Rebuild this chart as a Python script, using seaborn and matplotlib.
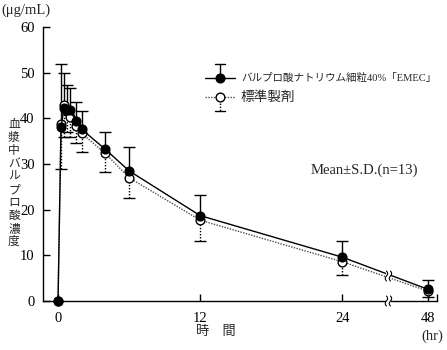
import numpy as np
import matplotlib
matplotlib.use("Agg")
import matplotlib.pyplot as plt
from matplotlib.lines import Line2D
from matplotlib.patches import Rectangle
import seaborn as sns

# Plasma concentration after a single dose (mean ± S.D., n=13)
time_h = [0, 0.25, 0.5, 0.75, 1, 1.5, 2, 4, 6, 12, 24, 48]
test_mean = [0, 38.0, 42.2, 41.8, 41.8, 39.5, 37.6, 33.2, 28.5, 18.7, 9.6, 2.6]
test_sd = [0, 14.0, 7.7, 5.6, 4.8, 4.1, 4.1, 3.9, 5.2, 4.5, 3.6, 2.1]
ref_mean = [0, 38.8, 42.9, 41.5, 40.4, 38.3, 36.7, 32.3, 27.0, 17.7, 8.6, 2.2]
ref_sd = [0, 9.8, 7.0, 4.4, 4.4, 3.8, 4.0, 4.1, 4.5, 4.6, 2.9, 1.3]

x_ticks = [0, 12, 24, 48]
y_ticks = [0, 10, 20, 30, 40, 50, 60]
test_label = "バルプロ酸ナトリウム細粒40%「EMEC」"
ref_label = "標準製剤"
y_title = "血漿中バルプロ酸濃度"
x_title = "時　間"
unit_y = "(μg/mL)"
unit_x = "(hr)"
note = "Mean±S.D.(n=13)"

sns.set_style("ticks")
SERIF = ["Liberation Serif", "Noto Sans CJK JP"]
CJK = ["Noto Sans CJK JP", "DejaVu Sans"]
plt.rcParams["font.family"] = SERIF

W, H = 447, 350
fig = plt.figure(figsize=(W / 100, H / 100), dpi=100)
fig.patch.set_facecolor("white")
ax = fig.add_axes([43 / W, 49 / H, 394 / W, 274 / H])
ax.set_facecolor("white")

# broken time axis: everything after 24 h is compressed
K = 0.3


def fwd(t):
    t = np.asarray(t, float)
    return np.where(t <= 24, t, 24 + (t - 24) * K)


def inv(u):
    u = np.asarray(u, float)
    return np.where(u <= 24, u, 24 + (u - 24) / K)


t_arr = np.array(time_h, float)
tm, ts = np.array(test_mean), np.array(test_sd)
rm, rs = np.array(ref_mean), np.array(ref_sd)
has_sd = ts > 0
MS = 6.3

# reference formulation: dotted line, open circles, downward S.D.
sns.lineplot(x=time_h, y=ref_mean, ax=ax, color="0.3", lw=1.0,
             linestyle=(0, (1, 1)), marker="o", markersize=MS,
             markerfacecolor="white", markeredgecolor="black",
             markeredgewidth=1.0, clip_on=False, zorder=3)
ax.vlines(t_arr[has_sd], rm[has_sd] - rs[has_sd], rm[has_sd], colors="black",
          linestyles=(0, (1, 1.2)), lw=1.0, zorder=2)
ax.plot(t_arr[has_sd], rm[has_sd] - rs[has_sd], ls="none", marker="_",
        ms=9, mew=1.0, color="black", zorder=2)

# test formulation: solid line, filled circles, upward S.D.
sns.lineplot(x=time_h, y=test_mean, ax=ax, color="black", lw=1.0,
             marker="o", markersize=MS, markerfacecolor="black",
             markeredgecolor="black", markeredgewidth=1.0,
             clip_on=False, zorder=4)
ax.vlines(t_arr[has_sd], tm[has_sd], tm[has_sd] + ts[has_sd], colors="black",
          lw=1.0, zorder=2)
ax.plot(t_arr[has_sd], tm[has_sd] + ts[has_sd], ls="none", marker="_",
        ms=9, mew=1.0, color="black", zorder=2)

if ax.get_legend() is not None:
    ax.get_legend().remove()

ax.set_xscale("function", functions=(fwd, inv))
ax.set_xlim(-1.27, 24 + 8.0 / K)
ax.set_ylim(0, 60)
ax.set_xticks(x_ticks)
ax.set_yticks(y_ticks)
ax.set_xticks([24 + 8.0 / K], minor=True)
ax.xaxis.set_minor_formatter(plt.NullFormatter())
ax.tick_params(axis="both", which="both", direction="in", length=5,
               width=1.0, color="black", labelsize=10.5, labelcolor="black")
ax.tick_params(axis="x", pad=8)
ax.tick_params(axis="y", pad=6)
for lab in ax.get_xticklabels() + ax.get_yticklabels():
    lab.set_family(SERIF)
ax.set_xlabel("")
ax.set_ylabel("")
sns.despine(ax=ax)
for s in ("left", "bottom"):
    ax.spines[s].set_linewidth(1.0)
    ax.spines[s].set_color("black")

# axis-break marks on the time axis and on both curves
fig.canvas.draw()
t_break = 24 + 3.9 / K


def break_mark(xd, yd, h=5.0):
    px, py = ax.transData.transform((xd, yd))
    rect = Rectangle((px - 2.5, py - h), 5, 2 * h, transform=None,
                     facecolor="white", edgecolor="none", zorder=6,
                     clip_on=False)
    fig.add_artist(rect)
    yy = np.linspace(-h, h, 30)
    for dx in (-2.0, 2.0):
        xx = px + dx + 1.2 * np.sin(np.pi * yy / h)
        fig.add_artist(Line2D(xx, py + yy, transform=None, color="black",
                              lw=0.8, zorder=7))


def interp_at(tb, means):
    u = fwd([24, 48])
    return np.interp(fwd(tb), u, [means[-2], means[-1]])


break_mark(t_break, 0)
break_mark(t_break, (interp_at(t_break, test_mean) +
                     interp_at(t_break, ref_mean)) / 2)


def fx(x):
    return x / W


def fy(y):
    return 1 - y / H


# legend drawn by hand
lx0, lx1, lxm = 205, 235, 220
fig.add_artist(Line2D([fx(lx0), fx(lx1)], [fy(78), fy(78)],
                      color="black", lw=1.0))
fig.add_artist(Line2D([fx(lxm), fx(lxm)], [fy(78), fy(64)],
                      color="black", lw=1.0))
fig.add_artist(Line2D([fx(lxm - 5), fx(lxm + 5)], [fy(64), fy(64)],
                      color="black", lw=1.0))
fig.add_artist(Line2D([fx(lxm)], [fy(78)], marker="o", ms=MS,
                      mfc="black", mec="black", color="black"))
fig.add_artist(Line2D([fx(lx0), fx(lx1)], [fy(97), fy(97)],
                      color="0.3", lw=1.0, linestyle=(0, (1, 1))))
fig.add_artist(Line2D([fx(lxm), fx(lxm)], [fy(97), fy(111)],
                      color="black", lw=1.0, linestyle=(0, (1, 1.2))))
fig.add_artist(Line2D([fx(lxm - 5), fx(lxm + 5)], [fy(111), fy(111)],
                      color="black", lw=1.0))
fig.add_artist(Line2D([fx(lxm)], [fy(97)], marker="o", ms=MS,
                      mfc="white", mec="black", color="black"))
fig.text(fx(241), fy(78), test_label, ha="left", va="center",
         fontsize=7.6, family=SERIF)
fig.text(fx(241), fy(97), ref_label, ha="left", va="center",
         fontsize=9.8, family=CJK)

# annotations and axis titles
fig.text(fx(364), fy(170), note, ha="center", va="center", fontsize=10.5,
         family=SERIF)
fig.text(fx(1), fy(10), unit_y, ha="left", va="center", fontsize=10.5,
         family=SERIF)
fig.text(fx(432), fy(336), unit_x, ha="center", va="center", fontsize=10.5,
         family=SERIF)
fig.text(fx(216), fy(331), x_title, ha="center", va="center", fontsize=9.5,
         family=CJK)
fig.text(fx(14), fy(183), "\n".join(y_title), ha="center", va="center",
         fontsize=8.5, family=CJK, linespacing=1.0)

fig.savefig("out.png", dpi=100, facecolor="white")
